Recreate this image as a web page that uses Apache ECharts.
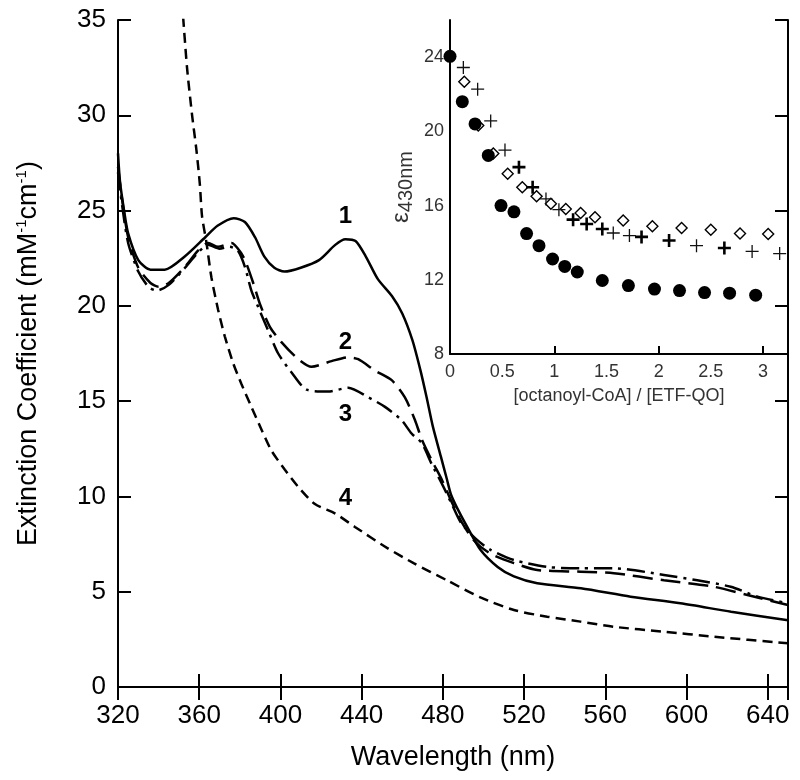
<!DOCTYPE html>
<html>
<head>
<meta charset="utf-8">
<script src="https://cdn.jsdelivr.net/npm/echarts@6/dist/echarts.min.js"></script>
<style>html,body{margin:0;padding:0;background:#fff}#c{width:800px;height:780px}</style>
</head>
<body>
<div id="c"></div>
<script>
// ---- Main spectra (wavelength nm, extinction mM-1 cm-1) ----
var curve1X = [320, 321, 323, 325, 330, 336, 343, 353, 363, 369, 377, 382.5, 387.5, 392, 397, 402, 410, 419, 427, 432, 437, 442, 448, 455, 460, 465, 469, 472, 475, 479, 482, 484, 487, 492, 498.5, 507, 515, 526.5, 548, 572.5, 597, 622, 650];
var curve1Y = [28.0, 26.5, 25.0, 23.8, 22.4, 21.9, 21.9, 22.6, 23.6, 24.2, 24.6, 24.4, 23.6, 22.6, 22.0, 21.8, 22.0, 22.4, 23.2, 23.5, 23.4, 22.6, 21.4, 20.5, 19.6, 18.2, 16.6, 15.2, 13.7, 12.1, 10.9, 10.1, 9.4, 8.4, 7.2, 6.3, 5.8, 5.44, 5.18, 4.74, 4.39, 3.95, 3.5];

var curve2X = [320, 322, 325, 330, 336, 340, 345, 353, 359.4, 364.4, 369.3, 375.9, 380.8, 383.3, 386.6, 389.9, 394.8, 400.5, 408.8, 415.3, 425.2, 433.4, 438.3, 446.6, 454.8, 461.3, 466.3, 469.6, 474.5, 479.4, 484.4, 489, 495.2, 503.4, 515, 526.5, 547.8, 564.2, 588.9, 613.5, 630, 650];
var curve2Y = [27.3, 25.6, 23.6, 22.0, 21.2, 21.0, 21.2, 22.05, 22.9, 23.3, 23.1, 23.3, 22.75, 22.2, 21.2, 20.1, 18.9, 18.1, 17.2, 16.8, 17.1, 17.3, 17.2, 16.6, 16.1, 15.2, 14.0, 13.0, 11.9, 10.9, 9.7, 8.7, 7.7, 7.0, 6.5, 6.14, 6.05, 5.97, 5.6, 5.26, 4.83, 4.3];

var curve3X = [320, 322, 325, 330, 335, 339, 345, 353, 359.4, 364.4, 370, 375, 379, 382.5, 385.7, 389, 394, 398.9, 405.5, 412.9, 423.5, 433.4, 443.3, 451.5, 459.7, 464.6, 469.6, 474.5, 479.4, 484.4, 489, 496, 503.4, 515, 531.4, 547.8, 564.2, 588.9, 605.3, 621.8, 635, 650];
var curve3Y = [27.0, 25.3, 23.3, 21.8, 21.0, 20.8, 21.1, 22.0, 22.8, 23.2, 23.0, 23.1, 22.9, 22.05, 20.8, 19.95, 18.7, 17.5, 16.5, 15.6, 15.5, 15.7, 15.2, 14.7, 14.0, 13.3, 12.8, 11.7, 10.7, 9.6, 8.6, 7.8, 7.2, 6.66, 6.3, 6.23, 6.23, 5.88, 5.6, 5.26, 4.74, 4.39];

var curve4X = [351.5, 354, 356.5, 358.6, 360.3, 361.4, 363.6, 366, 369.3, 372.6, 376.7, 380.8, 385.7, 390.7, 395.6, 402.2, 408.8, 417, 427, 436.7, 452.5, 465.6, 482, 498.5, 515, 531.4, 547.8, 564.2, 589, 613.5, 650];
var curve4Y = [36, 32.5, 30, 28.2, 26.4, 24.7, 23.3, 21.5, 19.8, 18.4, 17.0, 15.9, 14.7, 13.5, 12.4, 11.4, 10.5, 9.6, 9.1, 8.4, 7.3, 6.5, 5.6, 4.7, 4.04, 3.69, 3.43, 3.16, 2.9, 2.64, 2.29];

// curve number annotations
var labelX = [432, 432, 432, 432];
var labelY = [24.7, 18.1, 14.3, 9.9];
var labelText = ['1', '2', '3', '4'];

// ---- Inset: epsilon 430 nm vs [octanoyl-CoA]/[ETF-QO] ----
var circleX = [0, 0.118, 0.24, 0.367, 0.489, 0.613, 0.734, 0.853, 0.983, 1.10, 1.22, 1.46, 1.71, 1.96, 2.20, 2.44, 2.68, 2.93];
var circleY = [24.04, 21.6, 20.4, 18.7, 16.0, 15.66, 14.49, 13.84, 13.12, 12.72, 12.42, 11.96, 11.69, 11.5, 11.42, 11.31, 11.28, 11.17];

var diamondX = [0.137, 0.271, 0.415, 0.553, 0.693, 0.83, 0.967, 1.11, 1.252, 1.39, 1.66, 1.94, 2.22, 2.50, 2.78, 3.05];
var diamondY = [22.67, 20.32, 18.81, 17.71, 16.99, 16.5, 16.1, 15.82, 15.6, 15.37, 15.19, 14.88, 14.79, 14.7, 14.49, 14.47];

var plusBoldX = [0.661, 0.792, 1.18, 1.31, 1.46, 1.836, 2.10, 2.63];
var plusBoldY = [18.07, 16.99, 15.24, 15.01, 14.74, 14.31, 14.12, 13.71];

var plusThinX = [0.128, 0.265, 0.39, 0.527, 0.92, 1.044, 1.565, 1.72, 2.363, 2.896, 3.16];
var plusThinY = [23.44, 22.27, 20.56, 18.99, 16.36, 15.78, 14.52, 14.38, 13.84, 13.53, 13.41];

function zip(xs, ys) { return xs.map(function (x, i) { return [x, ys[i]]; }); }

var FONT = 'Liberation Sans, Arial, Helvetica, sans-serif';
var chart = echarts.init(document.getElementById('c'), null, { renderer: 'canvas' });

var axisLine = { show: true, lineStyle: { color: '#000', width: 2 } };
var mainTick = { show: true, inside: true, length: 13, lineStyle: { color: '#000', width: 2 } };

function lineSeries(xs, ys, dash) {
  return {
    type: 'line', xAxisIndex: 0, yAxisIndex: 0, data: zip(xs, ys),
    showSymbol: false, symbol: 'none', smooth: 0.25, clip: true,
    lineStyle: { color: '#000', width: 2.5, type: dash }, z: 3
  };
}

var option = {
  animation: false,
  backgroundColor: '#fff',
  textStyle: { fontFamily: FONT },
  grid: [
    { left: 118, top: 20, right: 12, bottom: 93 },
    { left: 450, top: 20, right: 12, bottom: 426 }
  ],
  xAxis: [
    {
      gridIndex: 0, type: 'value', min: 320, max: 650, interval: 40, position: 'bottom',
      axisLine: axisLine, axisTick: mainTick, splitLine: { show: false },
      axisLabel: { fontSize: 26, color: '#000', margin: 16, fontFamily: FONT, showMaxLabel: false },
      name: 'Wavelength (nm)', nameLocation: 'middle', nameGap: 57,
      nameTextStyle: { fontSize: 27, color: '#000', fontFamily: FONT }
    },
    {
      gridIndex: 0, type: 'value', min: 320, max: 650, interval: 40, position: 'top',
      axisLine: axisLine, axisTick: mainTick, splitLine: { show: false },
      axisLabel: { show: false }
    },
    {
      gridIndex: 1, type: 'value', min: 0, max: 3.24, interval: 0.5, position: 'bottom',
      axisLine: axisLine, axisTick: { show: false }, splitLine: { show: false },
      axisLabel: { fontSize: 18, color: '#333', margin: 9, fontFamily: FONT, showMaxLabel: false },
      name: '[octanoyl-CoA] / [ETF-QO]', nameLocation: 'middle', nameGap: 33,
      nameTextStyle: { fontSize: 18, color: '#333', fontFamily: FONT }
    },
    {
      gridIndex: 1, type: 'value', min: 0, max: 3.24, interval: 1, position: 'bottom',
      axisLine: { show: false }, splitLine: { show: false }, axisLabel: { show: false },
      axisTick: { show: true, inside: true, length: 8, lineStyle: { color: '#000', width: 2 } }
    }
  ],
  yAxis: [
    {
      gridIndex: 0, type: 'value', min: 0, max: 35, interval: 5, position: 'left',
      axisLine: axisLine, axisTick: mainTick, splitLine: { show: false },
      axisLabel: { fontSize: 26, color: '#000', margin: 12, fontFamily: FONT },
      name: 'Extinction Coefficient (mM{s|-1}cm{s|-1})', nameLocation: 'middle', nameGap: 74,
      nameTextStyle: {
        fontSize: 27, color: '#000', fontFamily: FONT,
        rich: { s: { fontSize: 15, color: '#000', fontFamily: FONT, verticalAlign: 'top', lineHeight: 30 } }
      }
    },
    {
      gridIndex: 0, type: 'value', min: 0, max: 35, interval: 5, position: 'right',
      axisLine: axisLine, axisTick: mainTick, splitLine: { show: false },
      axisLabel: { show: false }
    },
    {
      gridIndex: 1, type: 'value', min: 8, max: 26, interval: 4, position: 'left',
      axisLine: axisLine, axisTick: { show: false }, splitLine: { show: false },
      axisLabel: { fontSize: 18, color: '#333', margin: 6, fontFamily: FONT, showMaxLabel: false },
      name: '\u03B5{sub|430nm}', nameLocation: 'middle', nameGap: 34,
      nameTextStyle: {
        fontSize: 24, color: '#333', fontFamily: FONT,
        rich: { sub: { fontSize: 20, color: '#333', fontFamily: FONT, verticalAlign: 'bottom', lineHeight: 30 } }
      }
    }
  ],
  series: [
    lineSeries(curve1X, curve1Y, 'solid'),
    lineSeries(curve2X, curve2Y, [20, 8]),
    lineSeries(curve3X, curve3Y, [18, 6, 3, 6]),
    lineSeries(curve4X, curve4Y, [10, 6]),
    {
      type: 'scatter', xAxisIndex: 0, yAxisIndex: 0, symbol: 'circle', symbolSize: 1,
      itemStyle: { color: 'rgba(0,0,0,0)', opacity: 1 },
      data: labelX.map(function (x, i) { return { value: [x, labelY[i]], name: labelText[i] }; }),
      label: {
        show: true, position: 'inside', formatter: '{b}',
        fontSize: 24, fontWeight: 'bold', color: '#000', opacity: 1, fontFamily: FONT
      },
      z: 5
    },
    {
      type: 'scatter', xAxisIndex: 2, yAxisIndex: 2, data: zip(circleX, circleY),
      symbol: 'circle', symbolSize: 13, clip: false,
      itemStyle: { color: '#000', opacity: 1 }, z: 6
    },
    {
      type: 'scatter', xAxisIndex: 2, yAxisIndex: 2, data: zip(diamondX, diamondY),
      symbol: 'diamond', symbolSize: [11, 11], clip: false,
      itemStyle: { color: '#fff', borderColor: '#000', borderWidth: 1.4, opacity: 1 }, z: 5
    },
    {
      type: 'scatter', xAxisIndex: 2, yAxisIndex: 2, data: zip(plusBoldX, plusBoldY),
      symbol: 'path://M4,0L6,0L6,4L10,4L10,6L6,6L6,10L4,10L4,6L0,6L0,4L4,4Z', symbolSize: 13, clip: false,
      itemStyle: { color: '#000', opacity: 1 }, z: 5
    },
    {
      type: 'scatter', xAxisIndex: 2, yAxisIndex: 2, data: zip(plusThinX, plusThinY),
      symbol: 'path://M4.5,0L5.5,0L5.5,4.5L10,4.5L10,5.5L5.5,5.5L5.5,10L4.5,10L4.5,5.5L0,5.5L0,4.5L4.5,4.5Z', symbolSize: 13, clip: false,
      itemStyle: { color: '#111', opacity: 1 }, z: 5
    }
  ]
};
chart.setOption(option);
</script>
</body>
</html>
